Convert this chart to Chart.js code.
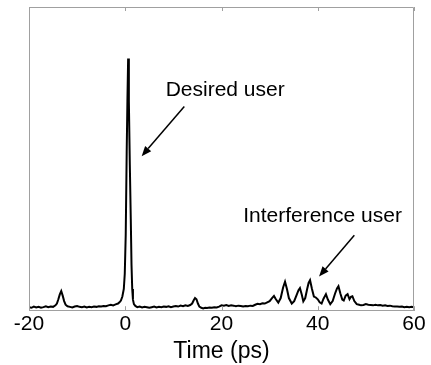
<!DOCTYPE html>
<html>
<head>
<meta charset="utf-8">
<script src="https://cdn.jsdelivr.net/npm/chart.js@4/dist/chart.umd.min.js"></script>
<style>
  html, body { margin: 0; padding: 0; background: #fff; }
  canvas { display: block; }
</style>
</head>
<body>
<canvas id="c" width="431" height="365"></canvas>
<script>
// ---- data (time in ps, normalised intensity) ----
const times = [
  -20, -19.5, -19, -18.5, -18, -17.5, -17, -16.5, -16, -15.5, -15, -14.5,
  -14.2, -13.9, -13.6, -13.3, -13.0, -12.7, -12.4, -12.0,
  -11.5, -11, -10.5, -10, -9.5, -9, -8.5, -8, -7.5, -7, -6.5, -6, -5.5, -5, -4.5, -4, -3.5, -3, -2.5, -2, -1.5, -1.2,
  -0.9, -0.6, -0.3, -0.1, 0.1, 0.3, 0.45, 0.6, 0.75, 0.95, 1.15, 1.3, 1.45, 1.6, 1.8, 2.1,
  2.5, 3, 3.5, 4, 4.5, 5, 5.5, 6, 6.5, 7, 7.5, 8, 8.5, 9, 9.5, 10, 10.5, 11, 11.5, 12, 12.5, 13, 13.5,
  13.9, 14.2, 14.5, 14.8, 15.1, 15.4,
  15.8, 16.2, 16.6, 17, 17.5, 18, 18.5, 19, 19.5, 20, 20.5, 21, 21.5, 22, 22.5, 23, 23.5, 24, 24.5, 25, 25.5, 26, 26.5, 27, 27.5, 28, 28.5, 29, 29.5, 30,
  30.5, 30.9, 31.3, 31.8, 32.3, 32.8, 33.2, 33.6, 34.0, 34.6, 35.1, 35.6, 36.0, 36.3, 36.7, 37.0, 37.4, 37.8, 38.1, 38.4, 38.8, 39.2, 39.6, 40.0, 40.4, 40.8,
  41.2, 41.7, 42.1, 42.6, 43.1, 43.6, 44.0, 44.3, 44.7, 45.1, 45.4, 45.8, 46.2, 46.6, 46.9, 47.2, 47.6, 48.1,
  48.6, 49, 49.5, 50, 50.5, 51, 51.5, 52, 52.5, 53, 53.5, 54, 54.5, 55, 55.5, 56, 56.5, 57, 57.5, 58, 58.5, 59, 59.5, 60
];
const intensity = [
  0.010, 0.008, 0.012, 0.009, 0.011, 0.008, 0.010, 0.013, 0.010, 0.012, 0.011, 0.016,
  0.022, 0.036, 0.052, 0.063, 0.048, 0.030, 0.018, 0.013,
  0.011, 0.009, 0.012, 0.014, 0.011, 0.010, 0.012, 0.009, 0.011, 0.010, 0.012, 0.011, 0.013, 0.012, 0.014, 0.013, 0.016, 0.018, 0.016, 0.019, 0.022, 0.026,
  0.032, 0.045, 0.070, 0.120, 0.250, 0.520, 0.690, 0.830, 0.690, 0.480, 0.300, 0.150, 0.070, 0.035, 0.020, 0.014,
  0.010, 0.012, 0.009, 0.011, 0.010, 0.008, 0.010, 0.012, 0.009, 0.011, 0.010, 0.012, 0.011, 0.013, 0.010, 0.012, 0.014, 0.012, 0.015, 0.013, 0.016, 0.014, 0.017,
  0.022, 0.032, 0.040, 0.036, 0.022, 0.012,
  0.008, 0.006, 0.008, 0.007, 0.009, 0.008, 0.010, 0.009, 0.012, 0.016, 0.015, 0.017, 0.014, 0.016, 0.015, 0.013, 0.015, 0.014, 0.012, 0.014, 0.013, 0.015, 0.014, 0.018, 0.021, 0.020, 0.023, 0.022, 0.026, 0.030,
  0.040, 0.047, 0.036, 0.025, 0.040, 0.075, 0.094, 0.070, 0.040, 0.022, 0.030, 0.050, 0.066, 0.073, 0.050, 0.029, 0.040, 0.070, 0.090, 0.099, 0.070, 0.045, 0.042, 0.036, 0.026, 0.022,
  0.038, 0.053, 0.035, 0.020, 0.030, 0.055, 0.072, 0.079, 0.055, 0.035, 0.032, 0.048, 0.053, 0.036, 0.044, 0.046, 0.030, 0.020,
  0.018, 0.016, 0.017, 0.020, 0.018, 0.017, 0.016, 0.018, 0.016, 0.017, 0.015, 0.016, 0.014, 0.015, 0.013, 0.012, 0.012, 0.011, 0.012, 0.010, 0.011, 0.010, 0.011, 0.010
];
const xTicks = [-20, 0, 20, 40, 60];
const xTitle = 'Time (ps)';

// annotations: label, label anchor (x, y) in data units, arrow tail and head in data units
const noteLabels = ['Desired user', 'Interference user'];
const noteTextPos = [[8.4, 0.724], [24.5, 0.311]];
const noteArrowFrom = [[12.27, 0.672], [47.6, 0.247]];
const noteArrowTo = [[3.41, 0.508], [40.27, 0.111]];

const points = times.map((t, i) => ({ x: t, y: intensity[i] }));
const FONT = '"Liberation Sans", Arial, sans-serif';

const framePlugin = {
  id: 'frame',
  afterDatasetsDraw(chart) {
    const { ctx, chartArea: a, scales } = chart;
    ctx.save();
    ctx.strokeStyle = '#a0a0a0';
    ctx.lineWidth = 1;
    ctx.beginPath();
    ctx.moveTo(a.left + 0.5, a.bottom);
    ctx.lineTo(a.left + 0.5, a.top + 0.5);
    ctx.lineTo(a.right - 0.5, a.top + 0.5);
    ctx.lineTo(a.right - 0.5, a.bottom);
    ctx.stroke();
    // inward tick marks (top and bottom)
    ctx.beginPath();
    xTicks.forEach(v => {
      const px = Math.round(scales.x.getPixelForValue(v)) + 0.5;
      ctx.moveTo(px, a.top);
      ctx.lineTo(px, a.top + 4);
      ctx.moveTo(px, a.bottom);
      ctx.lineTo(px, a.bottom - 4);
    });
    ctx.stroke();
    ctx.restore();
  }
};

const notePlugin = {
  id: 'notes',
  afterDraw(chart) {
    const { ctx, scales } = chart;
    const X = v => scales.x.getPixelForValue(v);
    const Y = v => scales.y.getPixelForValue(v);
    ctx.save();
    ctx.fillStyle = '#000';
    ctx.strokeStyle = '#000';
    ctx.font = '21px ' + FONT;
    ctx.textAlign = 'left';
    ctx.textBaseline = 'middle';
    noteLabels.forEach((lbl, i) => {
      ctx.fillText(lbl, X(noteTextPos[i][0]), Y(noteTextPos[i][1]));
      const x1 = X(noteArrowFrom[i][0]), y1 = Y(noteArrowFrom[i][1]);
      const x2 = X(noteArrowTo[i][0]), y2 = Y(noteArrowTo[i][1]);
      const ang = Math.atan2(y2 - y1, x2 - x1);
      const hl = 10, hw = 4;
      const bx = x2 - hl * Math.cos(ang), by = y2 - hl * Math.sin(ang);
      ctx.lineWidth = 1.5;
      ctx.beginPath();
      ctx.moveTo(x1, y1);
      ctx.lineTo(bx, by);
      ctx.stroke();
      ctx.beginPath();
      ctx.moveTo(x2, y2);
      ctx.lineTo(bx + hw * Math.sin(ang), by - hw * Math.cos(ang));
      ctx.lineTo(bx - hw * Math.sin(ang), by + hw * Math.cos(ang));
      ctx.closePath();
      ctx.fill();
    });
    ctx.restore();
  }
};

new Chart(document.getElementById('c'), {
  type: 'line',
  data: {
    datasets: [{
      data: points,
      borderColor: '#000',
      borderWidth: 2,
      pointRadius: 0,
      tension: 0,
      fill: false
    }]
  },
  options: {
    responsive: false,
    animation: false,
    layout: { padding: { left: 29, right: 17, top: 7, bottom: 0 } },
    plugins: { legend: { display: false }, tooltip: { enabled: false } },
    scales: {
      x: {
        type: 'linear',
        min: -20, max: 60,
        afterBuildTicks: s => { s.ticks = xTicks.map(v => ({ value: v })); },
        ticks: { color: '#000', font: { family: FONT, size: 21 }, padding: 1, maxRotation: 0, autoSkip: false },
        grid: { display: false, drawTicks: false },
        border: { display: true, color: '#a0a0a0', width: 1 },
        title: { display: true, text: xTitle, color: '#000', font: { family: FONT, size: 23 }, padding: { top: 0, bottom: 0 } }
      },
      y: { display: false, min: 0, max: 1 }
    }
  },
  plugins: [framePlugin, notePlugin]
});
</script>
</body>
</html>
